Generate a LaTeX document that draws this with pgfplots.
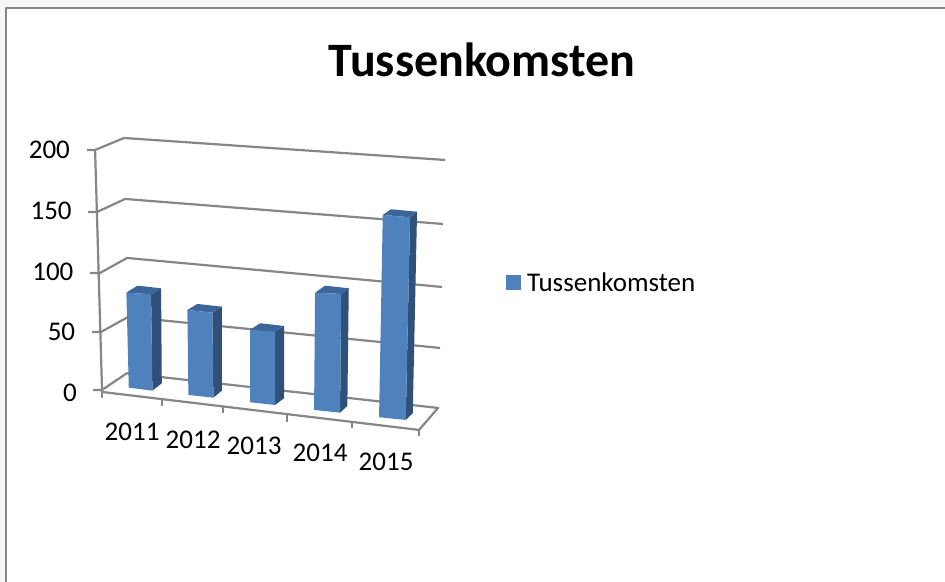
\documentclass[border=0pt]{standalone}
\usepackage{fontspec}
\setmainfont{Carlito}
\usepackage{pgfplots}
\pgfplotsset{compat=1.18}
\definecolor{gridc}{HTML}{868686}
\definecolor{front}{HTML}{4F81BD}
\definecolor{side}{HTML}{2F5078}
\definecolor{topc}{HTML}{3C659A}
\definecolor{outer}{HTML}{F6F6F6}
\begin{document}
\begin{tikzpicture}
\begin{axis}[
  width=945pt, height=582pt, scale only axis,
  xmin=0, xmax=945, ymin=-155.556, ymax=323.457,
  axis x line=none,
  axis y line=left,
  y axis line style={draw=none},
  ytick={0,50,100,150,200},
  major tick length=0pt,
  yticklabel style={anchor=east, xshift=70pt, font=\fontsize{27}{29}\selectfont, inner sep=0pt},
  yticklabel={\pgfmathtruncatemacro{\v}{\tick}\pgfmathsetlengthmacro{\k}{(200-\tick)*0.035pt}\v\kern-\k},
  legend style={draw=none, fill=none, at={(axis cs:506,91)}, anchor=west, font=\fontsize{27}{29}\selectfont, inner sep=0pt, outer sep=0pt},
  legend cell align=left,
  legend image code/.code={\fill[front] (0pt,-7.5pt) rectangle (15pt,7.5pt);},
  every axis plot/.append style={line join=round},
]
% surround and chart frame
\addplot[forget plot, fill=outer, draw=none] coordinates {(0,-155.556) (0,323.457) (945,323.457) (945,316.9) (6,316.9) (6,-155.556)} --cycle;
\addplot[forget plot, draw=gridc, line width=2.5pt] coordinates {(6,-155.556) (6,316.9) (945,316.9)};
% back-wall gridlines with their ticks
\addplot[forget plot, draw=gridc, line width=2.2pt] coordinates {(87,200) (95,200) (124,209.88) (445,191.77)};
\addplot[forget plot, draw=gridc, line width=2.2pt] coordinates {(88,148.97) (97,148.97) (125,159.67) (443,139.09)};
\addplot[forget plot, draw=gridc, line width=2.2pt] coordinates {(90,98.77) (100,98.77) (127,111.11) (442,87.24)};
\addplot[forget plot, draw=gridc, line width=2.2pt] coordinates {(92,50.21) (101,50.21) (128,62.55) (440,37.04)};
\addplot[forget plot, draw=gridc, line width=2.2pt] coordinates {(93,2.47) (102,2.47) (126.7,16.21) (438,-12.35) (419,-30.45) (102,0.82)};
% value axis
\addplot[forget plot, draw=gridc, line width=2.2pt] coordinates {(95,200) (102,0.82)};
% category ticks
\addplot[forget plot, draw=gridc, line width=1.8pt] coordinates {(102,0.82) (102,-4.12)};
\addplot[forget plot, draw=gridc, line width=1.8pt] coordinates {(162,-5.76) (162,-10.70)};
\addplot[forget plot, draw=gridc, line width=1.8pt] coordinates {(223,-11.52) (223,-16.46)};
\addplot[forget plot, draw=gridc, line width=1.8pt] coordinates {(287,-18.11) (287,-23.87)};
\addplot[forget plot, draw=gridc, line width=1.8pt] coordinates {(352,-23.87) (352,-28.81)};
\addplot[forget plot, draw=gridc, line width=1.8pt] coordinates {(419,-30.45) (419,-35.39)};
% 2011
\addplot[forget plot, fill=side, draw=none] coordinates {(151,81.23) (161,86.17) (161.7,7.98) (152.3,1.89)} --cycle;
\addplot[forget plot, fill=topc, draw=none] coordinates {(126.3,82.55) (137.3,88.31) (161,86.17) (151,81.23)} --cycle;
\addplot[fill=front, draw=none] coordinates {(126.3,82.55) (151,81.23) (152.3,1.89) (128.7,4.36)} --cycle;
\addlegendentry{\hspace{4pt}Tussenkomsten}
% 2012
\addplot[forget plot, fill=side, draw=none] coordinates {(212.3,66.09) (221.7,71.03) (221.7,1.89) (213.3,-3.87)} --cycle;
\addplot[forget plot, fill=topc, draw=none] coordinates {(187.3,68.31) (197.3,73.25) (221.7,71.03) (212.3,66.09)} --cycle;
\addplot[forget plot, fill=front, draw=none] coordinates {(187.3,68.31) (212.3,66.09) (213.3,-3.87) (188.3,-1.65)} --cycle;
% 2013
\addplot[forget plot, fill=side, draw=none] coordinates {(275,50.45) (284,55.14) (284,-4.36) (275,-9.88)} --cycle;
\addplot[forget plot, fill=topc, draw=none] coordinates {(250,51.85) (260,57.37) (284,55.14) (275,50.45)} --cycle;
\addplot[forget plot, fill=front, draw=none] coordinates {(250,51.85) (275,50.45) (275,-9.88) (250,-7.65)} --cycle;
% 2014
\addplot[forget plot, fill=side, draw=none] coordinates {(341,81.48) (348.7,86.17) (347.3,-10.70) (340,-16.21)} --cycle;
\addplot[forget plot, fill=topc, draw=none] coordinates {(315,82.55) (325,88.31) (348.7,86.17) (341,81.48)} --cycle;
\addplot[forget plot, fill=front, draw=none] coordinates {(315,82.55) (341,81.48) (340,-16.21) (314,-13.99)} --cycle;
% 2015
\addplot[forget plot, fill=side, draw=none] coordinates {(410,144.61) (417,149.22) (412.7,-16.71) (405.7,-22.22)} --cycle;
\addplot[forget plot, fill=topc, draw=none] coordinates {(382.7,146.50) (390.7,151.19) (417,149.22) (410,144.61)} --cycle;
\addplot[forget plot, fill=front, draw=none] coordinates {(382.7,146.50) (410,144.61) (405.7,-22.22) (379,-20.00)} --cycle;
% text
\node[font=\fontsize{48}{50}\selectfont\bfseries] at (axis cs:482,274.6) {Tussenkomsten};
\node[font=\fontsize{27}{29}\selectfont] at (axis cs:132,-32.1) {2011};
\node[font=\fontsize{27}{29}\selectfont] at (axis cs:193,-38.7) {2012};
\node[font=\fontsize{27}{29}\selectfont] at (axis cs:254,-43.6) {2013};
\node[font=\fontsize{27}{29}\selectfont] at (axis cs:320,-49.4) {2014};
\node[font=\fontsize{27}{29}\selectfont] at (axis cs:386,-56.8) {2015};
\end{axis}
\end{tikzpicture}
\end{document}
